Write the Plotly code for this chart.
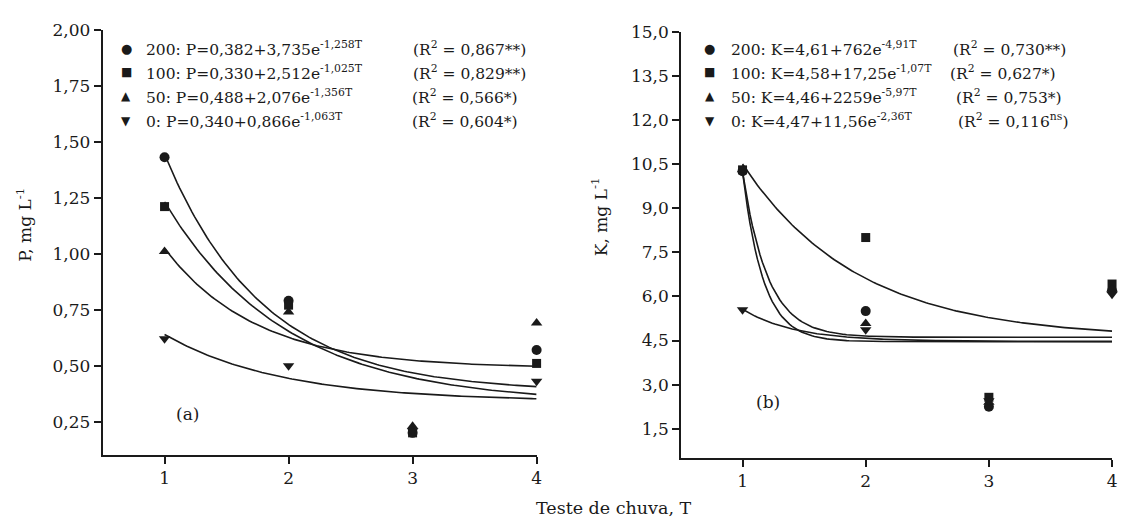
import numpy as np
import plotly.graph_objects as go

# ---------------- data ----------------
T = [1, 2, 3, 4]
doses = ["200", "100", "50", "0"]
symbols = ["circle", "square", "triangle-up", "triangle-down"]
glyphs = ["●", "■", "▲", "▼"]

# observed P (mg/L) for each dose
P_obs = {
    "200": [1.43, 0.79, 0.20, 0.57],
    "100": [1.21, 0.77, 0.20, 0.51],
    "50": [1.01, 0.74, 0.23, 0.69],
    "0": [0.62, 0.50, 0.21, 0.43],
}
# observed K (mg/L) for each dose
K_obs = {
    "200": [10.25, 5.50, 2.25, 6.20],
    "100": [10.30, 8.00, 2.57, 6.42],
    "50": [10.30, 5.08, 2.40, 6.25],
    "0": [5.55, 4.87, 2.45, 6.07],
}

# fitted models y = a + b*exp(c*T), coefficients as printed on the chart
P_a = [0.382, 0.330, 0.488, 0.340]
P_b = [3.735, 2.512, 2.076, 0.866]
P_c = [-1.258, -1.025, -1.356, -1.063]
K_a = [4.61, 4.58, 4.46, 4.47]
K_b = [762, 17.25, 2259, 11.56]
K_c = [-4.91, -1.07, -5.97, -2.36]

P_eq = [
    "200: P=0,382+3,735e<sup>-1,258T</sup>",
    "100: P=0,330+2,512e<sup>-1,025T</sup>",
    "50: P=0,488+2,076e<sup>-1,356T</sup>",
    "0: P=0,340+0,866e<sup>-1,063T</sup>",
]
P_r2 = [
    "(R<sup>2</sup> = 0,867**)",
    "(R<sup>2</sup> = 0,829**)",
    "(R<sup>2</sup> = 0,566*)",
    "(R<sup>2</sup> = 0,604*)",
]
K_eq = [
    "200: K=4,61+762e<sup>-4,91T</sup>",
    "100: K=4,58+17,25e<sup>-1,07T</sup>",
    "50: K=4,46+2259e<sup>-5,97T</sup>",
    "0: K=4,47+11,56e<sup>-2,36T</sup>",
]
K_r2 = [
    "(R<sup>2</sup> = 0,730**)",
    "(R<sup>2</sup> = 0,627*)",
    "(R<sup>2</sup> = 0,753*)",
    "(R<sup>2</sup> = 0,116<sup>ns</sup>)",
]

P_ticks = [0.25, 0.50, 0.75, 1.00, 1.25, 1.50, 1.75, 2.00]
P_ticktext = ["0,25", "0,50", "0,75", "1,00", "1,25", "1,50", "1,75", "2,00"]
K_ticks = [1.5, 3.0, 4.5, 6.0, 7.5, 9.0, 10.5, 12.0, 13.5, 15.0]
K_ticktext = ["1,5", "3,0", "4,5", "6,0", "7,5", "9,0", "10,5", "12,0", "13,5", "15,0"]
T_ticks = [1, 2, 3, 4]

# ---------------- figure ----------------
W, H = 1126, 520
FONT = "DejaVu Serif"
BLACK = "#1a1a1a"


def px(x):
    return x / W


def py(y):
    return 1 - y / H


fig = go.Figure()
Tc = np.linspace(1, 4, 150)
msize = [10, 9, 10, 10]

for i, d in enumerate(doses):
    fig.add_trace(go.Scatter(
        x=Tc, y=P_a[i] + P_b[i] * np.exp(P_c[i] * Tc), mode="lines",
        line=dict(color=BLACK, width=1.6), showlegend=False, hoverinfo="skip",
        xaxis="x", yaxis="y"))
    fig.add_trace(go.Scatter(
        x=Tc, y=K_a[i] + K_b[i] * np.exp(K_c[i] * Tc), mode="lines",
        line=dict(color=BLACK, width=1.6), showlegend=False, hoverinfo="skip",
        xaxis="x2", yaxis="y2"))

for i, d in enumerate(doses):
    fig.add_trace(go.Scatter(
        x=T, y=P_obs[d], mode="markers", cliponaxis=False, name=d,
        marker=dict(symbol=symbols[i], size=msize[i], color=BLACK),
        showlegend=False, xaxis="x", yaxis="y"))
    fig.add_trace(go.Scatter(
        x=T, y=K_obs[d], mode="markers", cliponaxis=False, name=d,
        marker=dict(symbol=symbols[i], size=msize[i], color=BLACK),
        showlegend=False, xaxis="x2", yaxis="y2"))

axis_common = dict(
    showline=True, linecolor=BLACK, linewidth=1.5, ticks="outside",
    ticklen=7, tickwidth=1.5, tickcolor=BLACK, showgrid=False, zeroline=False,
    tickfont=dict(family=FONT, size=17, color=BLACK),
)

fig.update_layout(
    width=W, height=H, autosize=False,
    margin=dict(l=0, r=0, t=0, b=0),
    paper_bgcolor="white", plot_bgcolor="white",
    showlegend=False,
    xaxis=dict(domain=[px(103), px(539)], range=[0.5, 4], tickvals=T_ticks,
               anchor="y", **axis_common),
    yaxis=dict(domain=[py(454), py(20)], range=[0.1, 2.0], tickvals=P_ticks,
               ticktext=P_ticktext, anchor="x", **axis_common),
    xaxis2=dict(domain=[px(684), px(1117)], range=[0.5, 4], tickvals=T_ticks,
                anchor="y2", **axis_common),
    yaxis2=dict(domain=[py(457), py(22)], range=[0.5, 15.0], tickvals=K_ticks,
                ticktext=K_ticktext, anchor="x2", **axis_common),
)

ann = []
row_y = [39, 63.5, 88, 113]
gsize = [13, 12, 12, 12]
LF = 15.5
P_r2_x = [413, 413, 412, 412]
K_r2_x = [955, 952, 958, 960]


def A(x, y, text, size, family=FONT, xanchor="left", **kw):
    return dict(x=px(x), y=py(y), xref="paper", yref="paper", text=text,
                showarrow=False, xanchor=xanchor, yanchor="middle",
                font=dict(family=family, size=size, color=BLACK), **kw)


for i in range(4):
    ann.append(A(127, row_y[i], glyphs[i], gsize[i], "DejaVu Sans", "center"))
    ann.append(A(145, row_y[i], P_eq[i], LF))
    ann.append(A(P_r2_x[i], row_y[i], P_r2[i], LF))
    ann.append(A(713, row_y[i], glyphs[i], gsize[i], "DejaVu Sans", "center"))
    ann.append(A(732, row_y[i], K_eq[i], LF))
    ann.append(A(K_r2_x[i], row_y[i], K_r2[i], LF))

ann += [
    A(188, 412, "(a)", 17, xanchor="center"),
    A(771, 400, "(b)", 17, xanchor="center"),
    A(617, 508, "Teste de chuva, T", 17.5, xanchor="center"),
    A(24, 219, "P, mg L<sup>-1</sup>", 17, xanchor="center", textangle=-90),
    A(602, 211, "K, mg L<sup>-1</sup>", 17, xanchor="center", textangle=-90),
]
fig.update_layout(annotations=ann)

fig.write_html(
    "out.html",
    config={"displayModeBar": False},
    post_script="document.body.style.margin='0';document.body.style.overflow='hidden';",
)
